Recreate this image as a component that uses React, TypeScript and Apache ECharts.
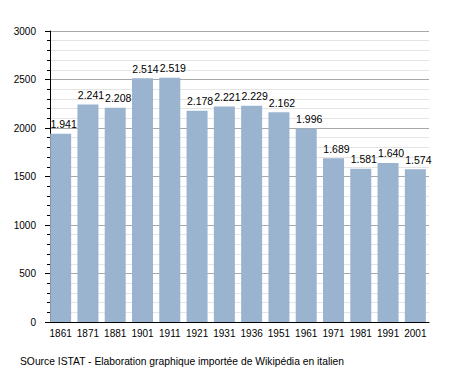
import React, { useEffect, useRef } from "react";
import * as echarts from "echarts";

const years = ["1861", "1871", "1881", "1901", "1911", "1921", "1931", "1936", "1951", "1961", "1971", "1981", "1991", "2001"];
const population = [1941, 2241, 2208, 2514, 2519, 2178, 2221, 2229, 2162, 1996, 1689, 1581, 1640, 1574];
const sourceText = "SOurce ISTAT - Elaboration graphique importée de Wikipédia en italien";

const FONT = "'Liberation Sans', Arial, sans-serif";

function fmt(v: number): string {
  const s = String(v);
  return s.length > 3 ? s.slice(0, s.length - 3) + "." + s.slice(s.length - 3) : s;
}

export default function App() {
  const ref = useRef<HTMLDivElement>(null);
  useEffect(() => {
    document.body.style.margin = "0";
    const chart = echarts.init(ref.current!, null, { renderer: "svg" });
    chart.setOption({
      animation: false,
      backgroundColor: "#ffffff",
      textStyle: { fontFamily: FONT },
      grid: { left: 47, right: 26, top: 31, bottom: 51 },
      xAxis: {
        type: "category",
        data: years,
        axisLine: { show: true, lineStyle: { color: "#000", width: 1 } },
        axisTick: { show: false },
        axisLabel: { color: "#000", fontSize: 10, margin: 6, interval: 0, fontFamily: FONT },
        splitLine: { show: false },
      },
      yAxis: {
        type: "value",
        min: 0,
        max: 3000,
        interval: 500,
        offset: -3,
        axisLine: { show: true, lineStyle: { color: "#000", width: 1 } },
        axisTick: { show: true, length: 5, lineStyle: { color: "#000" } },
        minorTick: { show: true, splitNumber: 5, length: 3, lineStyle: { color: "#000" } },
        axisLabel: { color: "#000", fontSize: 10, margin: 14, fontFamily: FONT, formatter: (v: number) => String(v) },
        splitLine: { show: true, lineStyle: { color: "#a8a8a8", width: 1 } },
        minorSplitLine: { show: true, lineStyle: { color: "#e4e4e4", width: 1 } },
      },
      series: [
        {
          type: "bar",
          data: population,
          barWidth: 21,
          itemStyle: { color: "#9ab3cf" },
          label: {
            show: true,
            position: "top",
            distance: 4,
            offset: [3, 0],
            color: "#000",
            fontSize: 10.5,
            fontFamily: FONT,
            formatter: (p: any) => fmt(p.value),
          },
        },
      ],
      graphic: [
        {
          type: "text",
          left: 20,
          top: 356,
          style: { text: sourceText, fontSize: 10.3, fill: "#000", fontFamily: FONT },
        },
      ],
    });
    return () => chart.dispose();
  }, []);
  return <div ref={ref} style={{ width: 455, height: 373 }} />;
}
